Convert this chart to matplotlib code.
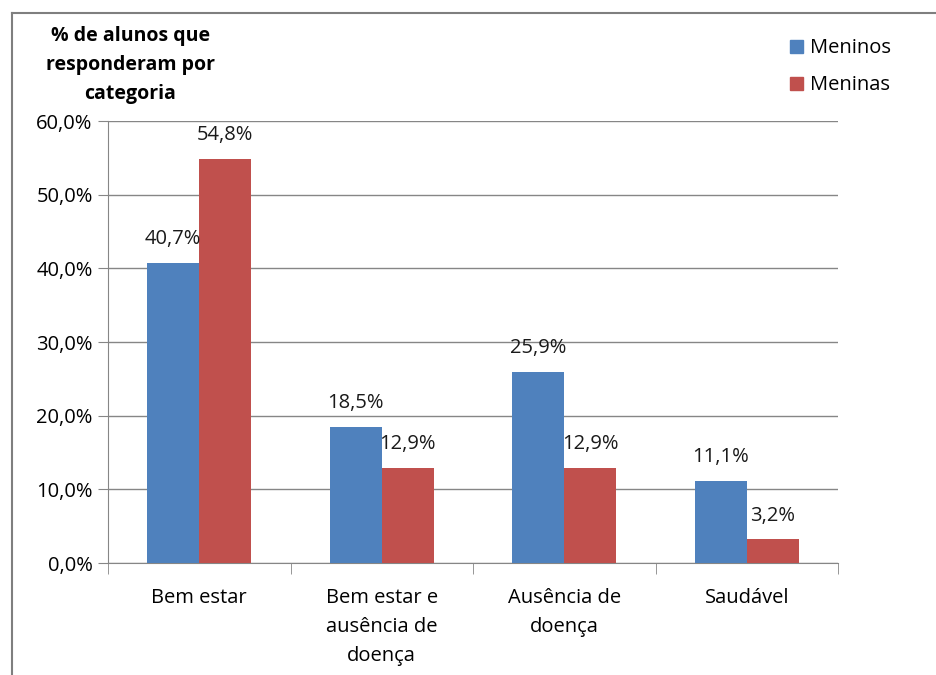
import numpy as np
import matplotlib.pyplot as plt
from matplotlib.lines import Line2D
from matplotlib.patches import Patch

plt.rcParams['font.family'] = ['Open Sans', 'DejaVu Sans']

# data
categories = ['Bem estar', 'Bem estar e\nausência de\ndoença', 'Ausência de\ndoença', 'Saudável']
meninos = [40.7, 18.5, 25.9, 11.1]
meninas = [54.8, 12.9, 12.9, 3.2]
yticks = [0, 10, 20, 30, 40, 50, 60]

BLUE = '#4f81bd'
RED = '#c0504d'
GRID = '#868686'
FS = 14.5

fig = plt.figure(figsize=(9.36, 6.75), dpi=100)
ax = fig.add_axes([0.1154, 0.1659, 0.7799, 0.6548])

x = np.arange(len(categories))
w = 0.285
b1 = ax.bar(x - w / 2, meninos, w, color=BLUE, zorder=3)
b2 = ax.bar(x + w / 2, meninas, w, color=RED, zorder=3)

# value labels
for bars, vals in ((b1, meninos), (b2, meninas)):
    for r, v in zip(bars, vals):
        ax.annotate(f'{v:.1f}%'.replace('.', ','),
                    (r.get_x() + r.get_width() / 2, v),
                    xytext=(0, 10), textcoords='offset points',
                    ha='center', va='bottom', fontsize=FS, color='#1a1a1a')

ax.set_xlim(-0.5, len(categories) - 0.5)
ax.set_ylim(0, 60)
ax.set_yticks(yticks)
ax.set_yticklabels([f'{t:.1f}%'.replace('.', ',') for t in yticks], fontsize=FS)
ax.yaxis.grid(True, color=GRID, linewidth=1, zorder=0)
ax.tick_params(axis='y', length=7, color=GRID, pad=4)

ax.set_xticks(x)
ax.set_xticklabels(categories, fontsize=FS, linespacing=1.6, va='top')
ax.set_xticks(np.arange(-0.5, len(categories)), minor=True)
ax.tick_params(axis='x', which='major', length=0, pad=18)
ax.tick_params(axis='x', which='minor', length=8, color=GRID)

for s in ('top', 'right'):
    ax.spines[s].set_visible(False)
ax.spines['left'].set_color(GRID)
ax.spines['bottom'].set_color(GRID)

# title
fig.text(0.139, 0.903, '% de alunos que\nresponderam por\ncategoria',
         ha='center', va='center', fontsize=14, fontweight='bold', linespacing=1.6)

# legend
handles = [Patch(color=BLUE), Patch(color=RED)]
fig.legend(handles, ['Meninos', 'Meninas'], loc='upper left',
           bbox_to_anchor=(0.825, 0.97), frameon=False, fontsize=FS,
           handlelength=0.65, handleheight=0.65, handletextpad=0.35, labelspacing=0.85)

# outer chart border (left and top only visible in crop)
fig.add_artist(Line2D([12 / 936, 12 / 936], [0, 1 - 13 / 675], color='#7f7f7f', lw=1.5,
                      transform=fig.transFigure))
fig.add_artist(Line2D([12 / 936, 1], [1 - 13 / 675, 1 - 13 / 675], color='#7f7f7f', lw=1.5,
                      transform=fig.transFigure))

fig.savefig('out.png', dpi=100)
